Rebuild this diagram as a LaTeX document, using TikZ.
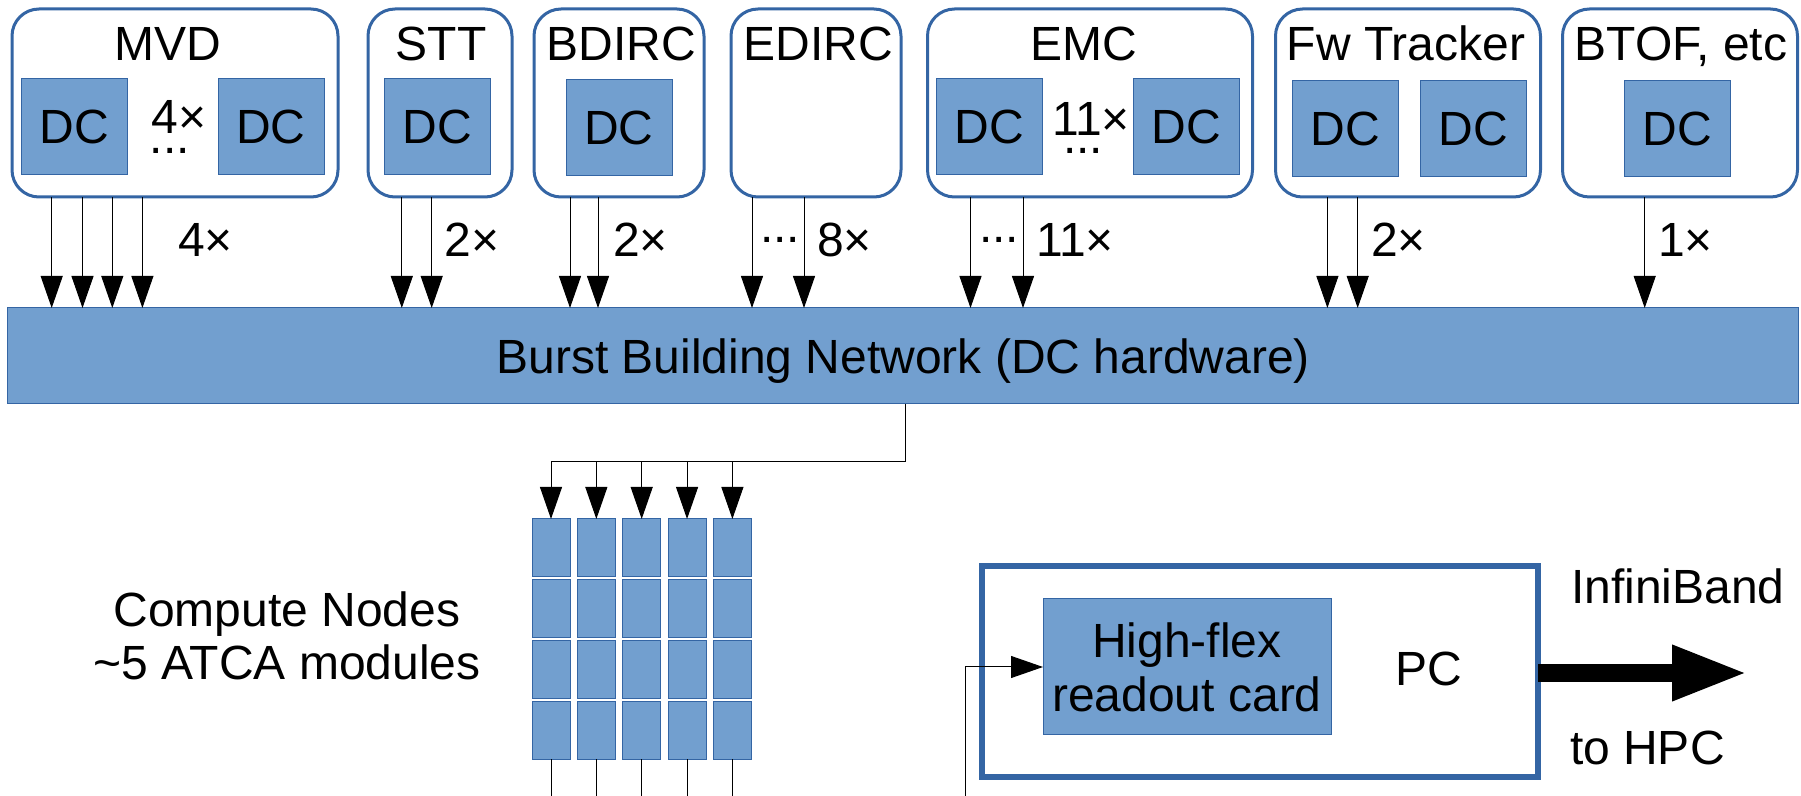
\documentclass[tikz,border=0pt]{standalone}
\usepackage{fontspec}
\setmainfont{Liberation Sans}
\usetikzlibrary{arrows.meta}
\definecolor{dcfill}{HTML}{729FCF}
\definecolor{dcline}{HTML}{3465A4}
\begin{document}
\begin{tikzpicture}[x=0.5pt,y=-0.5pt,
  every node/.style={font=\fontsize{24}{27}\selectfont, inner sep=0pt, outer sep=0pt},
  grp/.style={draw=dcline, line width=1.5pt, rounded corners=13.5pt, fill=white, minimum height=94pt},
  dcbox/.style={draw=dcline, line width=0.5pt, fill=dcfill, minimum width=53pt, minimum height=48pt},
  lbl/.style={anchor=base},
  cnt/.style={anchor=base west},
  arr/.style={line width=0.5pt, -{Triangle[length=16pt,width=11pt]}},
  cell/.style={draw=dcline, line width=0.5pt, fill=dcfill, minimum width=19pt, minimum height=29pt},
  wire/.style={line width=0.5pt}
]
\useasboundingbox (0,0) rectangle (1801,796);

% group boxes
\node[grp, minimum width=163pt] (mvd) at (175,103) {};
\node[grp, minimum width=72pt] (stt) at (440,103) {};
\node[grp, minimum width=85pt] (bdirc) at (619,103) {};
\node[grp, minimum width=85pt] (edirc) at (816,103) {};
\node[grp, minimum width=162.5pt] (emc) at (1090,103) {};
\node[grp, minimum width=132.5pt] (fw) at (1408,103) {};
\node[grp, minimum width=117.5pt] (btof) at (1680,103) {};

\node[lbl] (mvdl) at (168,61) {MVD};
\node[lbl] (sttl) at (441,61) {STT};
\node[lbl] (bdircl) at (621,61) {BDIRC};
\node[lbl] (edircl) at (818,61) {EDIRC};
\node[lbl] (emcl) at (1084,61) {EMC};
\node[lbl] (fwl) at (1406,61) {Fw Tracker};
\node[lbl] (btofl) at (1681,61) {BTOF, etc};

% DC boxes
\node[dcbox] (mvd1) at (74.5,127) {DC};
\node[dcbox] (mvd2) at (271,127) {DC};
\node[dcbox] (stt1) at (437.6,127) {DC};
\node[dcbox] (bdirc1) at (619,128) {DC};
\node[dcbox] (emc1) at (989.5,127) {DC};
\node[dcbox] (emc2) at (1186,127) {DC};
\node[dcbox] (fw1) at (1345,128.5) {DC};
\node[dcbox] (fw2) at (1473,128.5) {DC};
\node[dcbox] (btof1) at (1677,129) {DC};

\node[lbl] (mvdn) at (179,134) {4×};
\node[lbl] (mvdd) at (170,154) {...};
\node[lbl] (emcn) at (1091,136) {11×};
\node[lbl] (emcd) at (1083,154) {...};

% bar
\node[draw=dcline, line width=0.5pt, fill=dcfill, minimum width=895.5pt, minimum height=48pt, text depth=0pt] (bar) at (903.25,356) {Burst Building Network (DC hardware)};

% arrows from groups
\foreach \i/\x in {1/51.7,2/82.5,3/112.3,4/142.4}{
  \coordinate (m\i) at (\x,0);
  \draw[arr] (mvd.south -| m\i) -- (bar.north -| m\i);
}
\foreach \i/\x in {1/401.8,2/431.7}{
  \coordinate (s\i) at (\x,0);
  \draw[arr] (stt.south -| s\i) -- (bar.north -| s\i);
}
\foreach \i/\x in {1/570,2/598}{
  \coordinate (b\i) at (\x,0);
  \draw[arr] (bdirc.south -| b\i) -- (bar.north -| b\i);
}
\foreach \i/\x in {1/752,2/804}{
  \coordinate (d\i) at (\x,0);
  \draw[arr] (edirc.south -| d\i) -- (bar.north -| d\i);
}
\foreach \i/\x in {1/970.5,2/1023}{
  \coordinate (e\i) at (\x,0);
  \draw[arr] (emc.south -| e\i) -- (bar.north -| e\i);
}
\foreach \i/\x in {1/1327.4,2/1357.7}{
  \coordinate (f\i) at (\x,0);
  \draw[arr] (fw.south -| f\i) -- (bar.north -| f\i);
}
\coordinate (t1) at (1644.7,0);
\draw[arr] (btof.south -| t1) -- (bar.north -| t1);

\node[cnt] (mvdc) at (178,257) {4×};
\node[cnt] (sttc) at (444.7,257) {2×};
\node[cnt] (bdircc) at (613,257) {2×};
\node[lbl] (edircd) at (780,243) {...};
\node[cnt] (edircc) at (817,257) {8×};
\node[lbl] (emcdd) at (999,243) {...};
\node[cnt] (emcc) at (1036,257) {11×};
\node[cnt] (fwc) at (1371,257) {2×};
\node[cnt] (btofc) at (1658,257) {1×};

% compute nodes
\foreach \i in {0,...,4}{
  \foreach \j in {0,...,3}{
    \node[cell] (c\i\j) at ({551+45.35*\i},{548+60.7*\j}) {};
  }
}
\coordinate (bx) at (905,0);
\coordinate (hy) at (0,462);
\coordinate (bot) at (0,800);
\draw[wire] (bar.south -| bx) |- (c00.north |- hy);
\foreach \i in {0,...,4}{
  \draw[arr] (c\i0.north |- hy) -- (c\i0.north);
  \draw[wire] (c\i3.south) -- (c\i3.south |- bot);
}
\node[lbl] (cn1) at (287,627) {Compute Nodes};
\node[lbl] (cn2) at (287,680) {\textasciitilde 5 ATCA modules};

% PC
\node[draw=dcline, line width=3pt, minimum width=278pt, minimum height=105.5pt] (pc) at (1260,671.5) {};
\node[lbl] (pcl) at (1429,686) {PC};
\node[dcbox, minimum width=144pt, minimum height=68pt, align=center] (card) at (1187,667) {High-flex\\readout card};
\coordinate (inb) at (965,800);
\draw[arr] (inb) |- (card.west);
\coordinate (ib) at (1748,673);
\draw[line width=9pt, -{Triangle[length=38pt,width=25.5pt]}] (pc.east |- ib) -- (ib);
\node[cnt] (ibl) at (1571,604) {InfiniBand};
\node[cnt] (hpc) at (1570,764) {to HPC};
\end{tikzpicture}
\end{document}
